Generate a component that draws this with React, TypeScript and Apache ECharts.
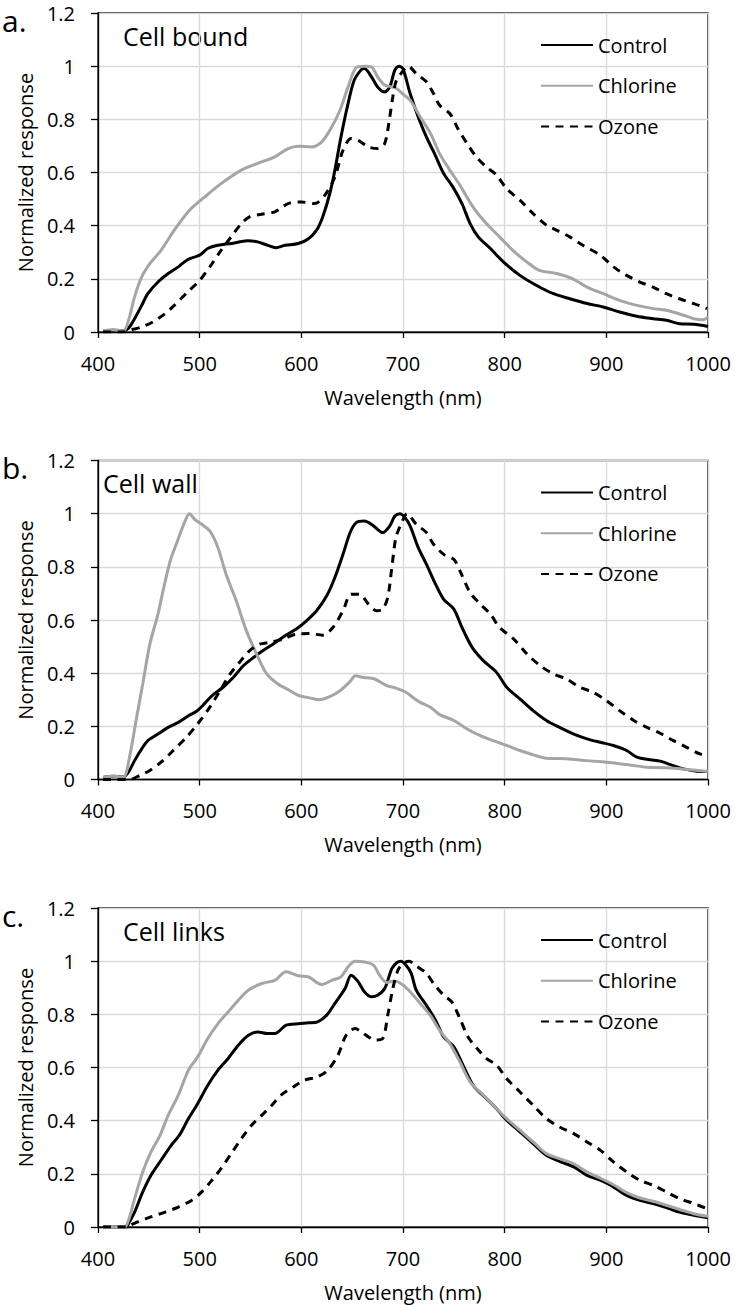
import React, { useEffect, useRef } from "react";
import * as echarts from "echarts";

// ---- Tick labels / categories ----
const xTicks = [400, 500, 600, 700, 800, 900, 1000];
const yTicks = [0, 0.2, 0.4, 0.6, 0.8, 1, 1.2];
const seriesNames = ["Control", "Chlorine", "Ozone"];
const panelLetters = ["a.", "b.", "c."];
const panelTitles = ["Cell bound", "Cell wall", "Cell links"];
const xTitle = "Wavelength (nm)";
const yTitle = "Normalized response";

// ---- Panel a: Cell bound ----
const boundControl: [number, number][] = [
  [405, 0.004], [415, 0.007], [425, 0.005], [430, 0.014], [436, 0.05], [443, 0.1], [449, 0.144],
  [459, 0.188], [469, 0.22], [479, 0.245], [488, 0.272], [500, 0.289], [508, 0.314], [518, 0.326],
  [531, 0.333], [547, 0.343], [557, 0.339], [567, 0.326], [575, 0.317], [584, 0.326], [597, 0.333],
  [607, 0.351], [615, 0.383], [621, 0.433], [628, 0.521], [633, 0.609], [639, 0.734], [646, 0.86],
  [652, 0.947], [659, 0.987], [662, 0.991], [669, 0.96], [675, 0.922], [682, 0.903], [687, 0.922],
  [692, 0.985], [696, 1.0], [700, 0.99], [707, 0.897], [715, 0.809], [723, 0.734], [731, 0.671],
  [740, 0.596], [749, 0.546], [758, 0.483], [766, 0.408], [774, 0.358], [786, 0.314], [799, 0.263],
  [815, 0.213], [831, 0.176], [848, 0.144], [864, 0.125], [881, 0.107], [897, 0.094], [913, 0.075],
  [930, 0.059], [946, 0.05], [959, 0.044], [972, 0.031], [986, 0.029], [1000, 0.021],
];
const boundChlorine: [number, number][] = [
  [405, 0.004], [415, 0.008], [425, 0.004], [430, 0.044], [436, 0.132], [443, 0.207], [451, 0.257],
  [462, 0.307], [475, 0.383], [490, 0.458], [505, 0.508], [521, 0.558], [541, 0.609], [557, 0.634],
  [574, 0.659], [587, 0.69], [597, 0.699], [610, 0.696], [620, 0.715], [630, 0.772], [638, 0.834],
  [646, 0.922], [654, 0.995], [662, 1.0], [669, 0.997], [675, 0.96], [682, 0.929], [689, 0.922],
  [694, 0.915], [700, 0.895], [707, 0.872], [717, 0.809], [727, 0.747], [736, 0.671], [746, 0.609],
  [756, 0.552], [769, 0.47], [782, 0.408], [795, 0.358], [808, 0.307], [822, 0.263], [834, 0.232],
  [851, 0.22], [867, 0.2], [881, 0.169], [897, 0.144], [913, 0.119], [930, 0.1], [946, 0.088],
  [959, 0.082], [976, 0.063], [986, 0.05], [995, 0.046], [1000, 0.056],
];
const boundOzone: [number, number][] = [
  [405, 0.0], [425, 0.0], [430, 0.006], [443, 0.019], [454, 0.038], [466, 0.069], [475, 0.1],
  [488, 0.15], [500, 0.194], [510, 0.245], [521, 0.307], [531, 0.358], [541, 0.408], [549, 0.433],
  [561, 0.443], [574, 0.452], [587, 0.483], [600, 0.489], [613, 0.483], [623, 0.514], [633, 0.583],
  [641, 0.684], [649, 0.728], [656, 0.721], [666, 0.696], [675, 0.69], [682, 0.709], [687, 0.81],
  [690, 0.885], [693, 0.941], [698, 0.972], [705, 1.0], [713, 0.972], [723, 0.941], [730, 0.897],
  [736, 0.853], [746, 0.822], [754, 0.765], [763, 0.709], [772, 0.659], [782, 0.621], [792, 0.59],
  [802, 0.539], [815, 0.496], [828, 0.445], [841, 0.402], [851, 0.383], [864, 0.358], [877, 0.326],
  [894, 0.289], [907, 0.245], [920, 0.213], [933, 0.188], [946, 0.169], [959, 0.144], [972, 0.125],
  [986, 0.107], [999, 0.088],
];

// ---- Panel b: Cell wall ----
const wallControl: [number, number][] = [
  [405, 0.008], [415, 0.012], [425, 0.01], [430, 0.028], [436, 0.071], [443, 0.115], [449, 0.146],
  [459, 0.171], [469, 0.196], [479, 0.215], [489, 0.24], [497, 0.257], [503, 0.278], [512, 0.315],
  [523, 0.347], [533, 0.384], [543, 0.428], [553, 0.459], [562, 0.484], [572, 0.509], [584, 0.541],
  [595, 0.566], [605, 0.597], [615, 0.635], [625, 0.691], [633, 0.76], [641, 0.847], [648, 0.929],
  [654, 0.966], [662, 0.972], [671, 0.954], [680, 0.929], [687, 0.954], [692, 0.991], [697, 1.0],
  [702, 0.985], [707, 0.954], [715, 0.872], [723, 0.81], [732, 0.735], [740, 0.678], [750, 0.641],
  [758, 0.572], [768, 0.497], [779, 0.447], [792, 0.403], [802, 0.347], [815, 0.303], [828, 0.259],
  [841, 0.222], [854, 0.196], [868, 0.171], [881, 0.153], [894, 0.14], [907, 0.128], [920, 0.109],
  [930, 0.084], [943, 0.074], [953, 0.069], [963, 0.056], [976, 0.04], [989, 0.031], [1000, 0.03],
];
const wallChlorine: [number, number][] = [
  [405, 0.008], [415, 0.012], [425, 0.01], [431, 0.084], [438, 0.234], [444, 0.359], [451, 0.509],
  [459, 0.622], [464, 0.71], [471, 0.822], [477, 0.885], [485, 0.966], [490, 1.0], [495, 0.979],
  [502, 0.96], [510, 0.935], [518, 0.872], [526, 0.772], [536, 0.672], [546, 0.559], [556, 0.472],
  [566, 0.397], [577, 0.359], [589, 0.334], [598, 0.315], [608, 0.307], [618, 0.3], [628, 0.312],
  [638, 0.334], [648, 0.369], [653, 0.39], [661, 0.384], [672, 0.378], [684, 0.353], [693, 0.344],
  [703, 0.328], [711, 0.305], [717, 0.29], [727, 0.272], [736, 0.244], [750, 0.222], [763, 0.19],
  [776, 0.165], [789, 0.146], [802, 0.128], [815, 0.109], [828, 0.093], [841, 0.08], [861, 0.078],
  [881, 0.071], [900, 0.065], [920, 0.056], [940, 0.046], [959, 0.044], [979, 0.038], [1000, 0.03],
];
const wallOzone: [number, number][] = [
  [405, 0.0], [431, 0.0], [441, 0.015], [451, 0.034], [462, 0.065], [474, 0.109], [487, 0.159],
  [498, 0.209], [510, 0.272], [520, 0.334], [530, 0.397], [539, 0.44], [549, 0.484], [559, 0.509],
  [569, 0.516], [582, 0.528], [595, 0.547], [608, 0.549], [621, 0.543], [631, 0.572], [641, 0.635],
  [649, 0.697], [657, 0.697], [666, 0.66], [674, 0.635], [680, 0.641], [685, 0.685], [689, 0.797],
  [693, 0.91], [698, 0.96], [704, 1.0], [713, 0.96], [723, 0.929], [730, 0.885], [740, 0.847],
  [750, 0.828], [756, 0.785], [766, 0.703], [776, 0.66], [786, 0.622], [795, 0.572], [809, 0.528],
  [822, 0.472], [835, 0.428], [848, 0.397], [861, 0.378], [874, 0.347], [887, 0.328], [900, 0.297],
  [913, 0.259], [927, 0.222], [940, 0.196], [953, 0.174], [966, 0.146], [979, 0.121], [992, 0.096],
  [999, 0.09],
];

// ---- Panel c: Cell links ----
const linksControl: [number, number][] = [
  [405, 0.0], [428, 0.0], [430, 0.013], [436, 0.056], [444, 0.132], [452, 0.194], [462, 0.251],
  [472, 0.307], [480, 0.345], [489, 0.408], [498, 0.464], [508, 0.533], [518, 0.59], [528, 0.634],
  [538, 0.684], [548, 0.721], [557, 0.734], [567, 0.728], [574, 0.728], [585, 0.759], [597, 0.765],
  [607, 0.768], [616, 0.772], [625, 0.797], [633, 0.841], [643, 0.897], [649, 0.947], [656, 0.922],
  [662, 0.885], [669, 0.866], [675, 0.872], [682, 0.897], [689, 0.972], [694, 0.995], [698, 1.0],
  [703, 0.985], [708, 0.955], [713, 0.891], [723, 0.834], [732, 0.778], [740, 0.715], [750, 0.678],
  [759, 0.609], [769, 0.533], [782, 0.483], [792, 0.445], [802, 0.402], [815, 0.358], [828, 0.314],
  [841, 0.27], [854, 0.247], [868, 0.226], [881, 0.194], [894, 0.176], [907, 0.151], [920, 0.119],
  [933, 0.1], [946, 0.088], [959, 0.073], [972, 0.056], [986, 0.044], [1000, 0.035],
];
const linksChlorine: [number, number][] = [
  [405, 0.0], [426, 0.0], [430, 0.025], [436, 0.107], [444, 0.207], [452, 0.282], [461, 0.345],
  [469, 0.42], [479, 0.496], [489, 0.59], [498, 0.64], [508, 0.709], [518, 0.765], [528, 0.809],
  [538, 0.853], [548, 0.891], [561, 0.916], [574, 0.928], [585, 0.96], [597, 0.945], [607, 0.941],
  [620, 0.912], [630, 0.928], [639, 0.941], [646, 0.979], [653, 1.0], [662, 0.997], [671, 0.985],
  [677, 0.947], [684, 0.92], [692, 0.925], [700, 0.91], [707, 0.885], [717, 0.841], [727, 0.795],
  [736, 0.74], [746, 0.69], [756, 0.621], [766, 0.546], [779, 0.496], [792, 0.445], [802, 0.408],
  [815, 0.364], [828, 0.32], [841, 0.276], [854, 0.257], [868, 0.238], [881, 0.207], [894, 0.184],
  [907, 0.159], [920, 0.129], [933, 0.109], [946, 0.097], [959, 0.082], [972, 0.066], [986, 0.05],
  [1000, 0.04],
];
const linksOzone: [number, number][] = [
  [405, 0.0], [428, 0.0], [430, 0.004], [439, 0.019], [452, 0.038], [466, 0.056], [479, 0.075],
  [492, 0.1], [502, 0.132], [512, 0.176], [521, 0.22], [531, 0.276], [541, 0.332], [551, 0.383],
  [561, 0.42], [571, 0.458], [580, 0.496], [592, 0.527], [603, 0.552], [616, 0.565], [626, 0.59],
  [636, 0.646], [644, 0.721], [653, 0.747], [659, 0.734], [666, 0.715], [672, 0.703], [680, 0.709],
  [685, 0.797], [690, 0.897], [695, 0.966], [700, 0.991], [706, 1.0], [712, 0.985], [723, 0.954],
  [730, 0.916], [740, 0.872], [748, 0.847], [756, 0.784], [764, 0.715], [773, 0.671], [782, 0.634],
  [792, 0.609], [802, 0.558], [815, 0.508], [828, 0.458], [841, 0.408], [854, 0.376], [868, 0.351],
  [881, 0.32], [894, 0.289], [907, 0.245], [920, 0.207], [933, 0.176], [946, 0.157], [959, 0.132],
  [972, 0.107], [986, 0.088], [999, 0.069],
];

const panelData = [
  [boundControl, boundChlorine, boundOzone],
  [wallControl, wallChlorine, wallOzone],
  [linksControl, linksChlorine, linksOzone],
];

const FONT = "'Open Sans', 'DejaVu Sans', sans-serif";
const panelTops = [13, 460.5, 908];
const PLOT_LEFT = 98;
const PLOT_WIDTH = 610;
const PLOT_HEIGHT = 319;
const titleX = [123, 103, 123];

const lineStyles = [
  { color: "#000000", width: 3, type: "solid" as any },
  { color: "#a5a5a5", width: 3, type: "solid" as any },
  { color: "#000000", width: 3, type: [8, 6.5] as any },
];

export default function App() {
  const ref = useRef<HTMLDivElement>(null);

  useEffect(() => {
    if (!ref.current) return;
    const chart = echarts.init(ref.current, undefined, { renderer: "svg" });

    const grid: any[] = [];
    const xAxis: any[] = [];
    const yAxis: any[] = [];
    const series: any[] = [];
    const legend: any[] = [];
    const graphic: any[] = [];

    panelTops.forEach((top, i) => {
      grid.push({
        left: PLOT_LEFT,
        top,
        width: PLOT_WIDTH,
        height: PLOT_HEIGHT,
        show: true,
        borderColor: "#000",
        borderWidth: 1.3,
        backgroundColor: "transparent",
      });
      xAxis.push({
        type: "value",
        gridIndex: i,
        min: xTicks[0],
        max: xTicks[xTicks.length - 1],
        interval: 100,
        axisLine: { show: true, lineStyle: { color: "#000", width: 1.3 } },
        axisTick: { show: true, length: 6, lineStyle: { color: "#000", width: 1.3 } },
        splitLine: { show: true, lineStyle: { color: "#d9d9d9", width: 1.3 } },
        axisLabel: {
          fontSize: 20,
          fontFamily: FONT,
          color: "#000",
          margin: 21,
          formatter: (v: number) => String(v),
        },
        name: xTitle,
        nameLocation: "middle",
        nameGap: 55,
        nameTextStyle: { fontSize: 20, fontFamily: FONT, color: "#000" },
      });
      yAxis.push({
        type: "value",
        gridIndex: i,
        min: yTicks[0],
        max: yTicks[yTicks.length - 1],
        interval: 0.2,
        axisLine: { show: true, lineStyle: { color: "#000", width: 1.3 } },
        axisTick: { show: true, length: 7, lineStyle: { color: "#000", width: 1.3 } },
        splitLine: { show: true, lineStyle: { color: "#d9d9d9", width: 1.3 } },
        axisLabel: {
          fontSize: 20,
          fontFamily: FONT,
          color: "#000",
          margin: 23,
          formatter: (v: number) => String(Math.round(v * 10) / 10),
        },
        name: yTitle,
        nameLocation: "middle",
        nameGap: 60,
        nameTextStyle: { fontSize: 20, fontFamily: FONT, color: "#000" },
      });
      seriesNames.forEach((name, s) => {
        series.push({
          type: "line",
          name,
          xAxisIndex: i,
          yAxisIndex: i,
          data: panelData[i][s],
          symbol: "none",
          showSymbol: false,
          smooth: 0.3,
          color: lineStyles[s].color,
          lineStyle: { ...lineStyles[s] },
          z: 2 + s,
        });
      });
      legend.push({
        data: seriesNames,
        orient: "vertical",
        left: 540,
        top: top + 22,
        padding: 0,
        itemWidth: 52,
        itemHeight: 20,
        itemGap: 20.7,
        selectedMode: false,
        itemStyle: { opacity: 0 },
        textStyle: { fontSize: 20, fontFamily: FONT, color: "#000", lineHeight: 20 },
      });
      graphic.push({
        type: "text",
        left: 2,
        top: top - 8,
        style: { text: panelLetters[i], font: `30px ${FONT}`, fill: "#000" },
      });
      graphic.push({
        type: "text",
        left: titleX[i],
        top: top + 10,
        style: { text: panelTitles[i], font: `25px ${FONT}`, fill: "#000" },
      });
    });

    chart.setOption({
      animation: false,
      backgroundColor: "#ffffff",
      grid,
      xAxis,
      yAxis,
      series,
      legend,
      graphic,
    });

    return () => {
      chart.dispose();
    };
  }, []);

  return (
    <div
      ref={ref}
      style={{ position: "absolute", left: 0, top: 0, width: 735, height: 1305 }}
    />
  );
}
